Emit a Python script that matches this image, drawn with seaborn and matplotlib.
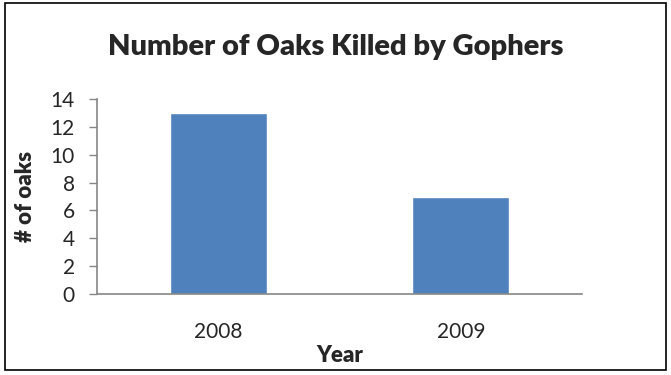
import matplotlib
matplotlib.use("Agg")
import matplotlib.pyplot as plt
import seaborn as sns
import pandas as pd
from matplotlib.patches import Rectangle

years = ["2008", "2009"]
oaks_killed = [13, 7]
y_ticks = [0, 2, 4, 6, 8, 10, 12, 14]
title = "Number of Oaks Killed by Gophers"
x_label = "Year"
y_label = "# of oaks"

sns.set_theme(style="white")
plt.rcParams['font.family'] = ['Lato', 'DejaVu Sans']

df = pd.DataFrame({"Year": years, "Oaks": oaks_killed})

W, H = 671, 375
fig = plt.figure(figsize=(W / 100, H / 100), dpi=100)
ax = fig.add_axes([97 / W, 1 - 294 / H, (582 - 97) / W, (294 - 99) / H])

sns.barplot(data=df, x="Year", y="Oaks", color="#4F81BD", saturation=1,
            width=0.4, ax=ax)

ax.set_ylim(0, 14)
ax.set_xlim(-0.5, 1.5)
ax.set_yticks(y_ticks)
ax.set_yticklabels([str(t) for t in y_ticks], fontsize=15)
ax.tick_params(axis="y", which="both", direction="out", length=6, width=1,
               color="#868686", pad=10, left=True)
ax.tick_params(axis="x", length=0, pad=20, labelsize=15)
for s in ["top", "right"]:
    ax.spines[s].set_visible(False)
for s in ["left", "bottom"]:
    ax.spines[s].set_color("#868686")
    ax.spines[s].set_linewidth(1.2)
ax.set_xlabel("")
ax.set_ylabel("")

fig.text(336 / W, 1 - 47 / H, title, ha="center", va="center",
         fontsize=21, fontweight="heavy")
fig.text(340 / W, 1 - 355 / H, x_label, ha="center", va="center",
         fontsize=16, fontweight="heavy")
fig.text(26 / W, 1 - 196 / H, y_label, ha="center", va="center",
         fontsize=16, fontweight="heavy", rotation=90)

fig.patches.append(Rectangle((5 / W, 1 - 370 / H), 661 / W, 367 / H,
                             transform=fig.transFigure, fill=False,
                             edgecolor="black", linewidth=1.2))

fig.savefig("out.png", dpi=100)
